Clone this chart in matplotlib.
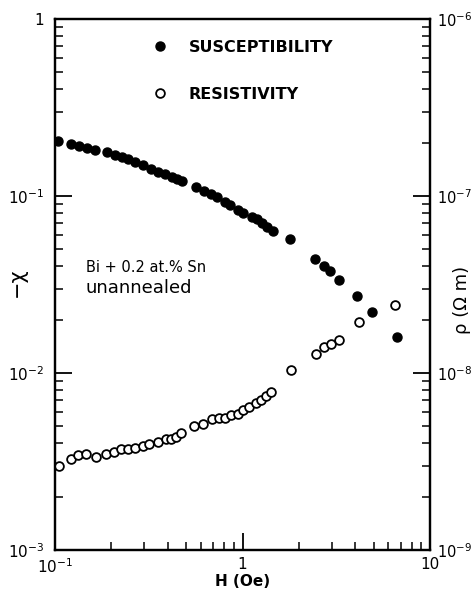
import matplotlib
matplotlib.use("Agg")
import matplotlib.pyplot as plt
from matplotlib.ticker import LogLocator, FixedLocator, FixedFormatter, NullFormatter

# Field H (Oe) and magnetic susceptibility -chi
h_chi = [0.104, 0.121, 0.135, 0.148, 0.163, 0.189, 0.209, 0.227, 0.246, 0.267,
         0.296, 0.325, 0.356, 0.386, 0.419, 0.446, 0.474, 0.563, 0.623, 0.677,
         0.734, 0.807, 0.858, 0.950, 1.010, 1.120, 1.191, 1.266, 1.346, 1.460,
         1.792, 2.436, 2.711, 2.929, 3.280, 4.091, 4.906, 6.652]
chi = [0.2053, 0.1967, 0.1924, 0.1874, 0.1819, 0.1765, 0.1704, 0.1654, 0.1612, 0.1556,
       0.1491, 0.1420, 0.1372, 0.1331, 0.1285, 0.1247, 0.1220, 0.1120, 0.1063, 0.1022,
       0.0983, 0.0921, 0.0890, 0.0833, 0.0801, 0.0764, 0.0738, 0.0707, 0.0671, 0.0637,
       0.0570, 0.0442, 0.0403, 0.0377, 0.0334, 0.0271, 0.0222, 0.0160]

# Field H (Oe) and resistivity rho (ohm m)
h_rho = [0.105, 0.122, 0.133, 0.147, 0.165, 0.186, 0.207, 0.225, 0.244, 0.268,
         0.294, 0.317, 0.353, 0.389, 0.414, 0.443, 0.470, 0.551, 0.613, 0.690,
         0.752, 0.804, 0.868, 0.950, 1.006, 1.087, 1.176, 1.255, 1.339, 1.419,
         1.807, 2.472, 2.737, 2.976, 3.282, 4.157, 6.491]
rho = [2.99e-9, 3.27e-9, 3.44e-9, 3.47e-9, 3.37e-9, 3.50e-9, 3.58e-9, 3.71e-9, 3.74e-9, 3.77e-9,
       3.85e-9, 3.97e-9, 4.09e-9, 4.24e-9, 4.22e-9, 4.37e-9, 4.60e-9, 5.04e-9, 5.15e-9, 5.50e-9,
       5.59e-9, 5.57e-9, 5.79e-9, 5.87e-9, 6.18e-9, 6.45e-9, 6.74e-9, 7.01e-9, 7.39e-9, 7.76e-9,
       1.044e-8, 1.275e-8, 1.406e-8, 1.458e-8, 1.536e-8, 1.949e-8, 2.430e-8]

x_ticks = [0.1, 1, 10]
x_labels = [r'$10^{-1}$', '1', '10']
chi_ticks = [1e-3, 1e-2, 1e-1, 1]
chi_labels = [r'$10^{-3}$', r'$10^{-2}$', r'$10^{-1}$', '1']
rho_ticks = [1e-9, 1e-8, 1e-7, 1e-6]
rho_labels = [r'$10^{-9}$', r'$10^{-8}$', r'$10^{-7}$', r'$10^{-6}$']

plt.rcParams['font.family'] = ['DejaVu Sans']
plt.rcParams['mathtext.fontset'] = 'dejavusans'

fig = plt.figure(figsize=(4.77, 5.94), dpi=100)
ax = fig.add_axes([55/477, 1 - 550/594, 375/477, 531/594])
ax2 = ax.twinx()

ax.set_xscale('log')
ax.set_yscale('log')
ax2.set_yscale('log')
ax.set_xlim(0.1, 10)
ax.set_ylim(1e-3, 1)
ax2.set_ylim(1e-9, 1e-6)

l1, = ax.plot(h_chi, chi, 'o', color='black', ms=6.5, mec='black', label='SUSCEPTIBILITY')
l2, = ax2.plot(h_rho, rho, 'o', mfc='white', mec='black', mew=1.3, ms=6.3, label='RESISTIVITY')

for a in (ax, ax2):
    for s in a.spines.values():
        s.set_linewidth(1.6)

ax.xaxis.set_major_locator(FixedLocator(x_ticks))
ax.xaxis.set_major_formatter(FixedFormatter(x_labels))
ax.xaxis.set_minor_locator(LogLocator(base=10, subs=range(2, 10)))
ax.xaxis.set_minor_formatter(NullFormatter())

ax.yaxis.set_major_locator(FixedLocator(chi_ticks))
ax.yaxis.set_major_formatter(FixedFormatter(chi_labels))
ax.yaxis.set_minor_locator(LogLocator(base=10, subs=range(2, 10)))
ax.yaxis.set_minor_formatter(NullFormatter())

ax2.yaxis.set_major_locator(FixedLocator(rho_ticks))
ax2.yaxis.set_major_formatter(FixedFormatter(rho_labels))
ax2.yaxis.set_minor_locator(LogLocator(base=10, subs=range(2, 10)))
ax2.yaxis.set_minor_formatter(NullFormatter())

ax.tick_params(axis='both', which='major', direction='in', length=12, width=1.3,
               labelsize=11, top=False, right=False)
ax.tick_params(axis='both', which='minor', direction='in', length=6, width=1.1,
               top=False, right=False)
ax.tick_params(axis='x', which='major', pad=5)
ax.tick_params(axis='y', which='major', pad=8)
ax2.tick_params(axis='y', which='major', direction='in', length=12, width=1.3,
                labelsize=10.5, pad=5)
ax2.tick_params(axis='y', which='minor', direction='in', length=6, width=1.1)

ax.set_xlabel('H (Oe)', fontsize=11, fontweight='bold', labelpad=-1)
ax.set_ylabel('−χ', fontsize=15)
ax.yaxis.set_label_coords(-0.075, 0.505)
ax2.set_ylabel('ρ (Ω m)', fontsize=13, rotation=90)
ax2.yaxis.set_label_coords(1.062, 0.47)

fig.text(86/477, 1 - 268/594, 'Bi + 0.2 at.% Sn', fontsize=10.5, va='center', ha='left')
fig.text(86/477, 1 - 288/594, 'unannealed', fontsize=13, va='center', ha='left')

fig.legend(handles=[l1, l2], loc='upper left', bbox_to_anchor=(152/477, 1 - 40/594),
           frameon=False, prop={'size': 11.5, 'weight': 'bold'}, handlelength=1.0,
           handletextpad=1.3, labelspacing=2.0, borderpad=0, borderaxespad=0)

fig.savefig('out.png', dpi=100)
